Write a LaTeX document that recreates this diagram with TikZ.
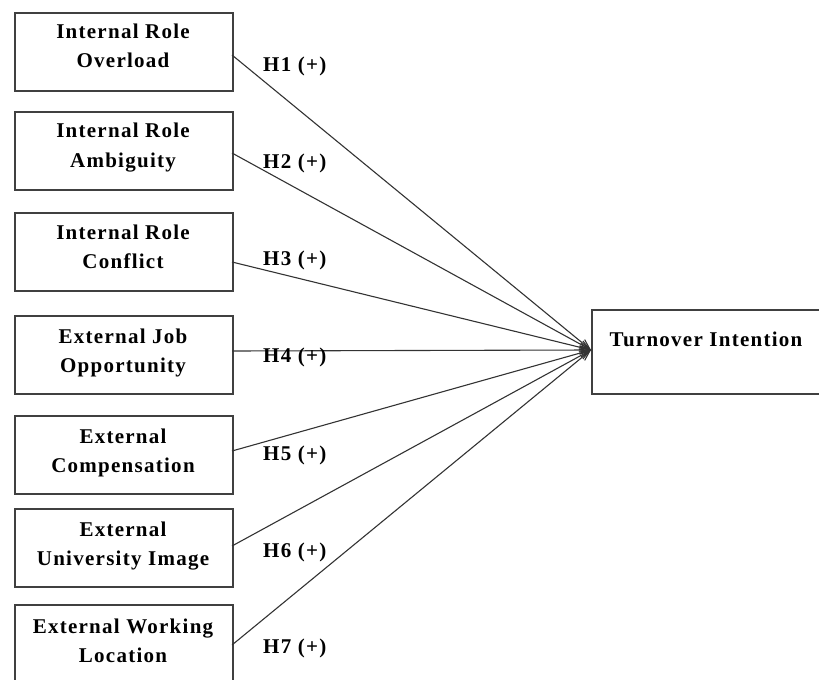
\documentclass[tikz,border=0pt]{standalone}
\usepackage{fontspec}
\setmainfont{Liberation Serif}[LetterSpace=6]
\usetikzlibrary{arrows.meta}
\tikzset{
  box/.style={draw=black!75, line width=1.8bp, minimum width=218bp, minimum height=78bp, inner sep=0pt, anchor=north west},
  txt/.style={align=center, font=\fontsize{21bp}{29bp}\selectfont\bfseries, inner sep=0pt, anchor=base},
  hyp/.style={font=\fontsize{21bp}{29bp}\selectfont\bfseries, inner sep=0pt, anchor=base west},
  conn/.style={draw=black!80, line width=1.1bp, -{Straight Barb[length=10bp,width=8bp]}}
}
\begin{document}
\begin{tikzpicture}[x=1bp,y=-1bp]
\useasboundingbox (0,0) rectangle (819,680);
\begin{scope}
\clip (0,0) rectangle (819,680);
\node[box] (b1) at (14,12) {};
\node[box] (b2) at (14,111) {};
\node[box] (b3) at (14,212) {};
\node[box] (b4) at (14,315) {};
\node[box] (b5) at (14,415) {};
\node[box] (b6) at (14,508) {};
\node[box] (b7) at (14,604) {};
\node[box, minimum width=232bp, minimum height=84bp] (ti) at (591,309) {};

\node[txt] (t1) at (123,68) {Internal Role\\Overload};
\node[txt] (t2) at (123,167) {Internal Role\\Ambiguity};
\node[txt] (t3) at (123,268) {Internal Role\\Conflict};
\node[txt] (t4) at (123,372) {External Job\\Opportunity};
\node[txt] (t5) at (123,472) {External\\Compensation};
\node[txt] (t6) at (123,565) {External\\University Image};
\node[txt] (t7) at (123,662) {External Working\\Location};
\node[txt] (tt) at (706,346) {Turnover Intention};

\coordinate (tip) at (591,350);
\coordinate (s1) at (232,55);
\coordinate (s2) at (232,153);
\coordinate (s3) at (232,262);
\coordinate (s4) at (232,351);
\coordinate (s5) at (232,451);
\coordinate (s6) at (232,546);
\coordinate (s7) at (232,645);
\foreach \i in {1,...,7} \draw[conn] (s\i) -- (tip);

\node[hyp] (h1) at (263,72) {H1 (+)};
\node[hyp] (h2) at (263,168) {H2 (+)};
\node[hyp] (h3) at (263,265) {H3 (+)};
\node[hyp] (h4) at (263,362) {H4 (+)};
\node[hyp] (h5) at (263,460) {H5 (+)};
\node[hyp] (h6) at (263,557) {H6 (+)};
\node[hyp] (h7) at (263,653) {H7 (+)};
\end{scope}
\end{tikzpicture}
\end{document}
